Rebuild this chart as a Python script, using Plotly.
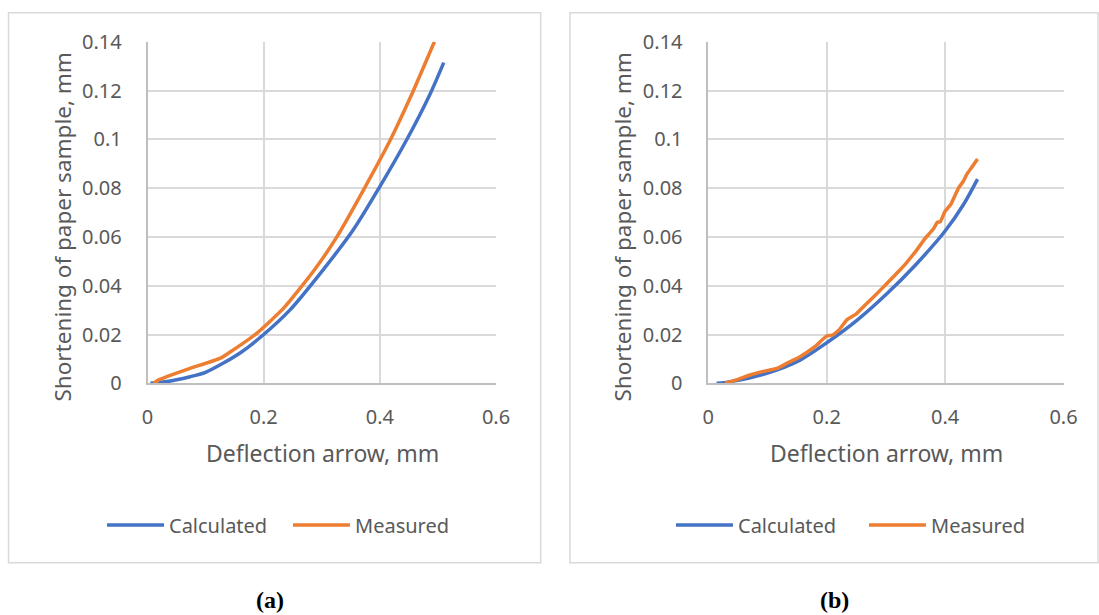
import plotly.graph_objects as go

# Panel (a)
a_calc_x = [0.005, 0.03, 0.0733, 0.1, 0.130, 0.16, 0.199, 0.245, 0.302, 0.354, 0.400, 0.446, 0.487, 0.510]
a_calc_y = [0, 0.0006, 0.0027, 0.0045, 0.0082, 0.0125, 0.0198, 0.030, 0.0464, 0.0628, 0.0806, 0.0997, 0.1188, 0.1314]
a_meas_x = [0.0103, 0.02, 0.033, 0.0733, 0.1247, 0.139, 0.188, 0.234, 0.285, 0.326, 0.372, 0.418, 0.453, 0.494]
a_meas_y = [0, 0.0015, 0.0027, 0.0061, 0.0102, 0.0123, 0.0205, 0.0307, 0.0457, 0.060, 0.0793, 0.0997, 0.1174, 0.14]

# Panel (b)
b_calc_x = [0.0141, 0.04, 0.0987, 0.155, 0.2, 0.251, 0.302, 0.35, 0.40, 0.4316, 0.4548]
b_calc_y = [0, 0.0008, 0.0041, 0.0095, 0.0166, 0.0258, 0.0368, 0.0485, 0.0624, 0.0735, 0.0837]
b_meas_x = [0.028, 0.05, 0.0705, 0.0987, 0.116, 0.135, 0.155, 0.18, 0.2, 0.21, 0.222, 0.234, 0.25,
            0.268, 0.285, 0.302, 0.32, 0.335, 0.352, 0.365, 0.38, 0.387, 0.392, 0.40, 0.41, 0.4226,
            0.43, 0.437, 0.445, 0.4548]
b_meas_y = [0, 0.0016, 0.0034, 0.0052, 0.0061, 0.0085, 0.0109, 0.0150, 0.0194, 0.0198, 0.0222, 0.026,
            0.0285, 0.0328, 0.0368, 0.041, 0.0455, 0.0495, 0.0546, 0.059, 0.0632, 0.066, 0.0663,
            0.0705, 0.0735, 0.080, 0.0825, 0.0858, 0.0885, 0.0919]

x_ticks = [0, 0.2, 0.4, 0.6]
x_tick_labels = ["0", "0.2", "0.4", "0.6"]
y_ticks = [0, 0.02, 0.04, 0.06, 0.08, 0.1, 0.12, 0.14]
y_tick_labels = ["0", "0.02", "0.04", "0.06", "0.08", "0.1", "0.12", "0.14"]

series_names = ["Calculated", "Measured"]
x_title = "Deflection arrow, mm"
y_title = "Shortening of paper sample, mm"
captions = ["(a)", "(b)"]

BLUE = "#4472C4"
ORANGE = "#ED7D31"
TXT = "#595959"
GRID = "#D9D9D9"
FONT = "Noto Sans"

W, H = 1099, 615

fig = go.Figure()
panels = [
    (a_calc_x, a_calc_y, a_meas_x, a_meas_y, "x", "y", "legend"),
    (b_calc_x, b_calc_y, b_meas_x, b_meas_y, "x2", "y2", "legend2"),
]
for cx, cy, mx, my, xa, ya, lg in panels:
    fig.add_trace(go.Scatter(x=cx, y=cy, mode="lines", name=series_names[0],
                             line=dict(color=BLUE, width=3.5, shape="spline", smoothing=0.8),
                             xaxis=xa, yaxis=ya, legend=lg))
    fig.add_trace(go.Scatter(x=mx, y=my, mode="lines", name=series_names[1],
                             line=dict(color=ORANGE, width=3.5, shape="spline", smoothing=0.5),
                             xaxis=xa, yaxis=ya, legend=lg))

def px_x(p):
    return p / W

def px_y(p):
    return 1 - p / H

ydom = [px_y(383.3), px_y(41.7)]
xdom_a = [px_x(147.5), px_x(496)]
xdom_b = [px_x(708.3), px_x(1063.5)]

xaxis_common = dict(range=[0, 0.6], tickvals=x_ticks, ticktext=x_tick_labels, showgrid=True,
                    gridcolor=GRID, gridwidth=1.5, showline=True, linecolor="#BFBFBF", linewidth=1.5,
                    zeroline=False, ticks="", tickfont=dict(family=FONT, size=20, color=TXT),
                    ticklabelstandoff=15, fixedrange=True, automargin=False)
yaxis_common = dict(range=[0, 0.14], tickvals=y_ticks, ticktext=y_tick_labels, showgrid=True,
                    gridcolor=GRID, gridwidth=1.5, showline=True, linecolor="#BFBFBF", linewidth=1.5,
                    zeroline=False, ticks="", tickfont=dict(family=FONT, size=20, color=TXT),
                    ticklabelstandoff=20, fixedrange=True, automargin=False)

legend_common = dict(orientation="h", xanchor="left", yanchor="middle",
                     font=dict(family=FONT, size=20, color=TXT), itemwidth=57,
                     entrywidthmode="pixels", bgcolor="rgba(0,0,0,0)")

fig.update_layout(
    width=W, height=H, margin=dict(l=0, r=0, t=0, b=0, autoexpand=False),
    paper_bgcolor="white", plot_bgcolor="white",
    xaxis=dict(domain=xdom_a, anchor="y", **xaxis_common),
    yaxis=dict(domain=ydom, anchor="x", **yaxis_common),
    xaxis2=dict(domain=xdom_b, anchor="y2", **xaxis_common),
    yaxis2=dict(domain=ydom, anchor="x2", **yaxis_common),
    legend=dict(x=px_x(102), y=px_y(525), entrywidth=114, **legend_common),
    legend2=dict(x=px_x(671), y=px_y(525), entrywidth=121, **legend_common),
    showlegend=True,
)

# panel frames
for x0, x1 in [(8.5, 540.7), (570, 1098)]:
    fig.add_shape(type="rect", xref="paper", yref="paper", x0=px_x(x0), x1=px_x(x1),
                  y0=px_y(562.7), y1=px_y(12.7), line=dict(color="#D9D9D9", width=1.5), layer="below")

# axis titles
for cx, ycx in [(322, 62), (886, 622)]:
    fig.add_annotation(text=x_title, xref="paper", yref="paper", x=px_x(cx), y=px_y(453),
                       showarrow=False, xanchor="center", yanchor="middle",
                       font=dict(family=FONT, size=23, color=TXT))
    fig.add_annotation(text=y_title, xref="paper", yref="paper", x=px_x(ycx), y=px_y(227.5),
                       showarrow=False, xanchor="center", yanchor="middle", textangle=-90,
                       font=dict(family=FONT, size=22.5, color=TXT))

for cap, cx in zip(captions, [270, 834]):
    fig.add_annotation(text="<b>%s</b>" % cap, xref="paper", yref="paper", x=px_x(cx), y=px_y(600),
                       showarrow=False, xanchor="center", yanchor="middle",
                       font=dict(family="Liberation Serif", size=24, color="black"))

fig.write_html("out.html")
